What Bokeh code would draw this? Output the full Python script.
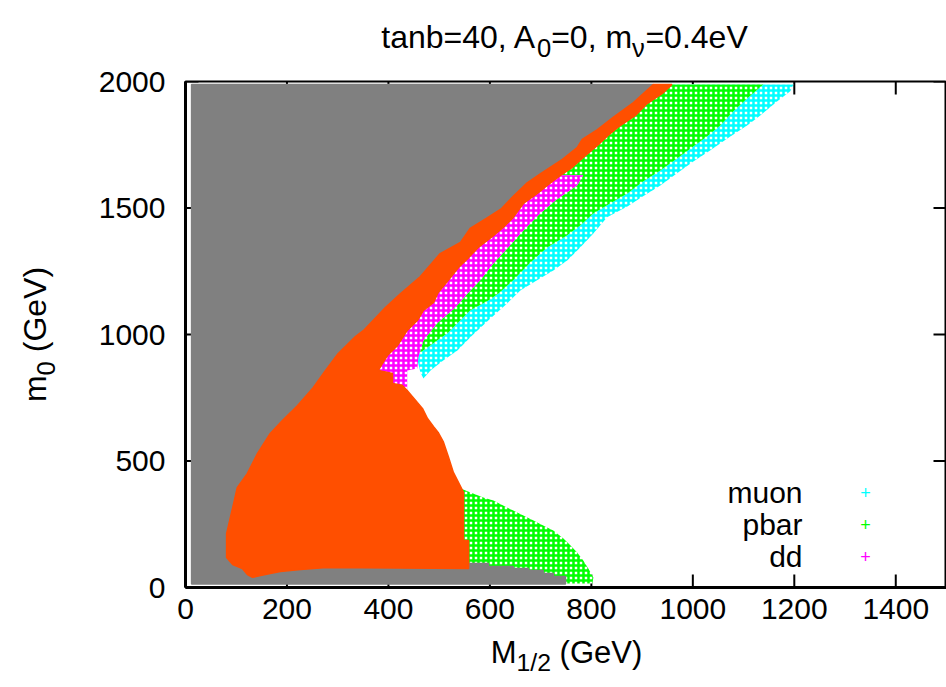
from bokeh.plotting import figure
from bokeh.models import Range1d, FixedTicker, Label
from bokeh.layouts import column, row
from bokeh.embed import file_html
from bokeh.resources import INLINE

# ---------------- data (M_1/2, m_0 in GeV) ----------------
x_ticks = [0, 200, 400, 600, 800, 1000, 1200, 1400]
y_ticks = [0, 500, 1000, 1500, 2000]

# cyan (muon) region boundary
muon_M = [100, 1198, 1192, 1166, 1133, 1107, 1068, 1034, 1001, 969, 936, 902, 871, 831, 804,
          778, 753, 725, 693, 660, 634, 601, 565, 536, 508, 483, 469, 463, 453, 100]
muon_m0 = [1988, 1988, 1961, 1921, 1866, 1826, 1775, 1727, 1684, 1637, 1589, 1546, 1506, 1463, 1399,
           1344, 1293, 1253, 1214, 1174, 1123, 1063, 996, 937, 897, 858, 826, 850, 937, 937]

# green (pbar) upper band boundary
pbar_M = [100, 1139, 1107, 1080, 1054, 1028, 1001, 969, 936, 902, 871, 837, 804, 778, 752,
          713, 680, 646, 617, 597, 561, 536, 516, 496, 477, 463, 440, 100]
pbar_m0 = [1988, 1988, 1933, 1882, 1826, 1783, 1743, 1696, 1648, 1605, 1557, 1518, 1478, 1431, 1391,
           1344, 1285, 1214, 1162, 1134, 1095, 1044, 1004, 976, 949, 929, 929, 929]

# green (pbar) lower lobe boundary
pbar2_M = [528, 538, 552, 567, 587, 607, 626, 646, 666, 686, 705, 725, 745, 759, 772,
           784, 794, 804, 802, 520]
pbar2_m0 = [403, 395, 383, 372, 356, 344, 324, 304, 285, 265, 245, 225, 194, 166, 138,
            107, 75, 40, 16, 16]

# magenta (dd) region boundary
dd_M = [700, 784, 772, 729, 699, 666, 636, 607, 581, 556, 532, 496, 469, 459, 457, 437, 437, 384, 300]
dd_m0 = [1629, 1629, 1589, 1530, 1478, 1411, 1344, 1281, 1214, 1162, 1107, 1044, 976, 909, 866, 858,
         779, 779, 1000]

# grey excluded region boundary
excl_M = [12, 12, 922, 883, 843, 812, 782, 772, 743, 703, 672, 644, 623, 593, 561, 542, 502, 463,
          424, 394, 351, 450, 540, 597, 597, 646, 646, 676, 676, 705, 705, 725, 725, 749, 749]
excl_m0 = [14, 1988, 1988, 1917, 1858, 1810, 1771, 1739, 1692, 1640, 1597, 1542, 1498, 1459, 1419,
           1364, 1320, 1229, 1162, 1107, 1016, 500, 95, 95, 83, 83, 75, 75, 67, 67, 55, 55, 43, 43, 14]

# orange region boundary
cons_M = [922, 959, 940, 910, 887, 857, 833, 812, 784, 762, 739, 713, 693, 666, 646, 626, 607, 577,
          558, 538, 518, 498, 489, 469, 457, 437, 418, 398, 388, 380, 408, 408, 427, 437, 447, 457,
          467, 477, 489, 498, 508, 518, 528, 548, 548, 558, 558,
          278, 227, 187, 167, 148, 132, 122, 112, 93, 81,
          81, 93, 102, 122, 142, 167, 191, 221, 252, 276, 301, 335, 351, 394, 424, 463, 502, 542,
          561, 593, 623, 644, 672, 703, 743, 772, 782, 812, 843, 883]
cons_m0 = [1988, 1988, 1953, 1913, 1866, 1826, 1787, 1747, 1700, 1660, 1629, 1589, 1557, 1518, 1463,
           1423, 1391, 1344, 1304, 1265, 1214, 1166, 1127, 1095, 1055, 1016, 957, 917, 885, 858,
           846, 806, 799, 779, 755, 731, 708, 668, 636, 613, 577, 518, 455, 376, 186, 186, 75,
           79, 71, 63, 55, 47, 40, 51, 75, 91, 119,
           213, 316, 395, 451, 530, 609, 660, 719, 791, 858, 925, 992, 1016, 1107, 1162, 1229, 1320,
           1364, 1419, 1459, 1498, 1542, 1597, 1640, 1692, 1739, 1771, 1810, 1858, 1917]

legend_names = ["muon", "pbar", "dd"]
legend_colors = ["#00FFFF", "#00FF00", "#FF00FF"]

FONT = "Liberation Sans"
X0, X1, Y0, Y1 = 0, 1500, 0, 2000
BASE_FIX = 0.33   # upward correction of the alphabetic baseline, in em

# ---------------- layout sizes (page pixels) ----------------
TITLE_H, YLAB_W = 62, 90
MAIN_BOTTOM = 633
MAIN_H = MAIN_BOTTOM - TITLE_H           # 571
XLAB_H = 687 - MAIN_BOTTOM               # 54
FRAME_W, FRAME_H = 761, 506

# ---------------- main figure ----------------
p = figure(width=946 - YLAB_W, height=MAIN_H, x_range=Range1d(X0, X1), y_range=Range1d(Y0, Y1),
           output_backend="svg", toolbar_location=None, frame_align=False,
           min_border_left=95, min_border_right=0, min_border_top=19,
           min_border_bottom=MAIN_H - 19 - FRAME_H)
p.grid.visible = False
p.outline_line_color = "black"
p.outline_line_width = 2
p.background_fill_color = "white"
p.border_fill_color = "white"

# tick marks on all four sides (drawn first, so the regions cover them as in gnuplot)
TICK_PX = 13
ty = TICK_PX * (Y1 - Y0) / FRAME_H
tx = TICK_PX * (X1 - X0) / FRAME_W
nx, ny = len(x_ticks), len(y_ticks)
tick_style = dict(line_color="black", line_width=2)
p.segment(x0=x_ticks, y0=[Y1] * nx, x1=x_ticks, y1=[Y1 - ty] * nx, **tick_style)
p.segment(x0=x_ticks, y0=[Y0] * nx, x1=x_ticks, y1=[Y0 + ty] * nx, **tick_style)
p.segment(x0=[X1] * ny, y0=y_ticks, x1=[X1 - tx] * ny, y1=y_ticks, **tick_style)
p.segment(x0=[X0] * ny, y0=y_ticks, x1=[X0 + tx] * ny, y1=y_ticks, **tick_style)

hatch = dict(fill_color="white", hatch_pattern="+", hatch_scale=5, hatch_weight=2.5, line_color=None)
p.patch(muon_M, muon_m0, hatch_color="#00FFFF", **hatch)
p.patch(pbar_M, pbar_m0, hatch_color="#00FF00", **hatch)
p.patch(pbar2_M, pbar2_m0, hatch_color="#00FF00", **hatch)
p.patch(dd_M, dd_m0, hatch_color="#FF00FF", **hatch)
p.patch(excl_M, excl_m0, fill_color="#808080", line_color="#808080", line_width=1.5)
p.patch(cons_M, cons_m0, fill_color="#FF4F00", line_color="#FF4F00", line_width=1.5)

for ax in (p.xaxis[0], p.yaxis[0]):
    ax.axis_line_width = 3
    ax.axis_line_color = "black"
    ax.major_tick_in = 0
    ax.major_tick_out = 0
    ax.minor_tick_line_color = None
    ax.major_label_text_font = FONT
    ax.major_label_text_font_size = "30px"
    ax.major_label_text_color = "black"
p.xaxis.ticker = FixedTicker(ticks=x_ticks)
p.yaxis.ticker = FixedTicker(ticks=y_ticks)
p.xaxis.major_label_standoff = 11
p.yaxis.major_label_standoff = 20

# legend (gnuplot style: text, then sample)
for i, (name, col) in enumerate(zip(legend_names, legend_colors)):
    p.add_layout(Label(x=617, y=85 - 32 * i + BASE_FIX * 30, text=name, x_units="screen",
                       y_units="screen", text_font=FONT, text_font_size="30px", text_align="right",
                       text_baseline="alphabetic", text_color="black"))
    p.add_layout(Label(x=680, y=89 - 32 * i + BASE_FIX * 18, text="+", x_units="screen",
                       y_units="screen", text_font=FONT, text_font_size="18px", text_align="center",
                       text_baseline="alphabetic", text_color=col))

# ---------------- text panels (title, axis labels with subscripts) ----------------
def text_panel(w, h):
    f = figure(width=w, height=h, x_range=Range1d(0, 1), y_range=Range1d(0, 1),
               output_backend="svg", toolbar_location=None, min_border=0, frame_align=False,
               x_axis_location=None, y_axis_location=None)
    f.grid.visible = False
    f.outline_line_color = None
    f.background_fill_color = "white"
    f.border_fill_color = "white"
    return f

W = {'t': .278, 'a': .556, 'n': .556, 'b': .556, '=': .584, '4': .556, '0': .556, ',': .278,
     ' ': .278, 'A': .667, 'm': .833, '.': .278, 'e': .556, 'V': .667, 'M': .833, '1': .556,
     '/': .278, '2': .556, '(': .333, 'G': .778, ')': .333, 'ν': .52}

def width(s, size):
    return sum(W.get(c, .556) for c in s) * size

def rich(fig, pieces, size, along, base, vertical=False):
    """pieces: (text, is_subscript, leading_gap_em)"""
    sub = size * 0.8
    total = sum(width(t, sub if s else size) + g * size for t, s, g in pieces)
    pos = along - total / 2
    for t, s, g in pieces:
        pos += g * size
        fs = sub if s else size
        drop = size * 0.28 if s else 0
        if vertical:
            lab = Label(x=base + drop - BASE_FIX * fs, y=pos, text=t, angle=1.5707963,
                        x_units="screen", y_units="screen",
                        text_font=FONT, text_font_size=f"{fs:.1f}px", text_align="left",
                        text_baseline="alphabetic", text_color="black")
        else:
            lab = Label(x=pos, y=base - drop + BASE_FIX * fs, text=t, x_units="screen", y_units="screen",
                        text_font=FONT, text_font_size=f"{fs:.1f}px", text_align="left",
                        text_baseline="alphabetic", text_color="black")
        fig.add_layout(lab)
        pos += width(t, fs)

# title: baseline at page y 47, centred on page x 564
title_fig = text_panel(946, TITLE_H)
rich(title_fig, [("tanb=40, A", False, 0), ("0", True, 0), ("=0, m", False, 0), ("ν", True, 0),
                 ("=0.4eV", False, 0)], 32, 564, TITLE_H - 47)

# y label: baseline at page x 45, centred on page y 334
ylab_fig = text_panel(YLAB_W, MAIN_H)
rich(ylab_fig, [("m", False, 0), ("0", True, 0), ("(GeV)", False, 0.278)], 32,
     MAIN_BOTTOM - 334, 45, vertical=True)

# x label: baseline at page y 662, centred on page x 566
xlab_fig = text_panel(946, XLAB_H)
rich(xlab_fig, [("M", False, 0), ("1/2", True, 0), ("(GeV)", False, 0.278)], 31, 566, 687 - 662)

layout = column(title_fig, row(ylab_fig, p, spacing=0), xlab_fig, spacing=0)
open("out.html", "w").write(file_html(layout, INLINE))
